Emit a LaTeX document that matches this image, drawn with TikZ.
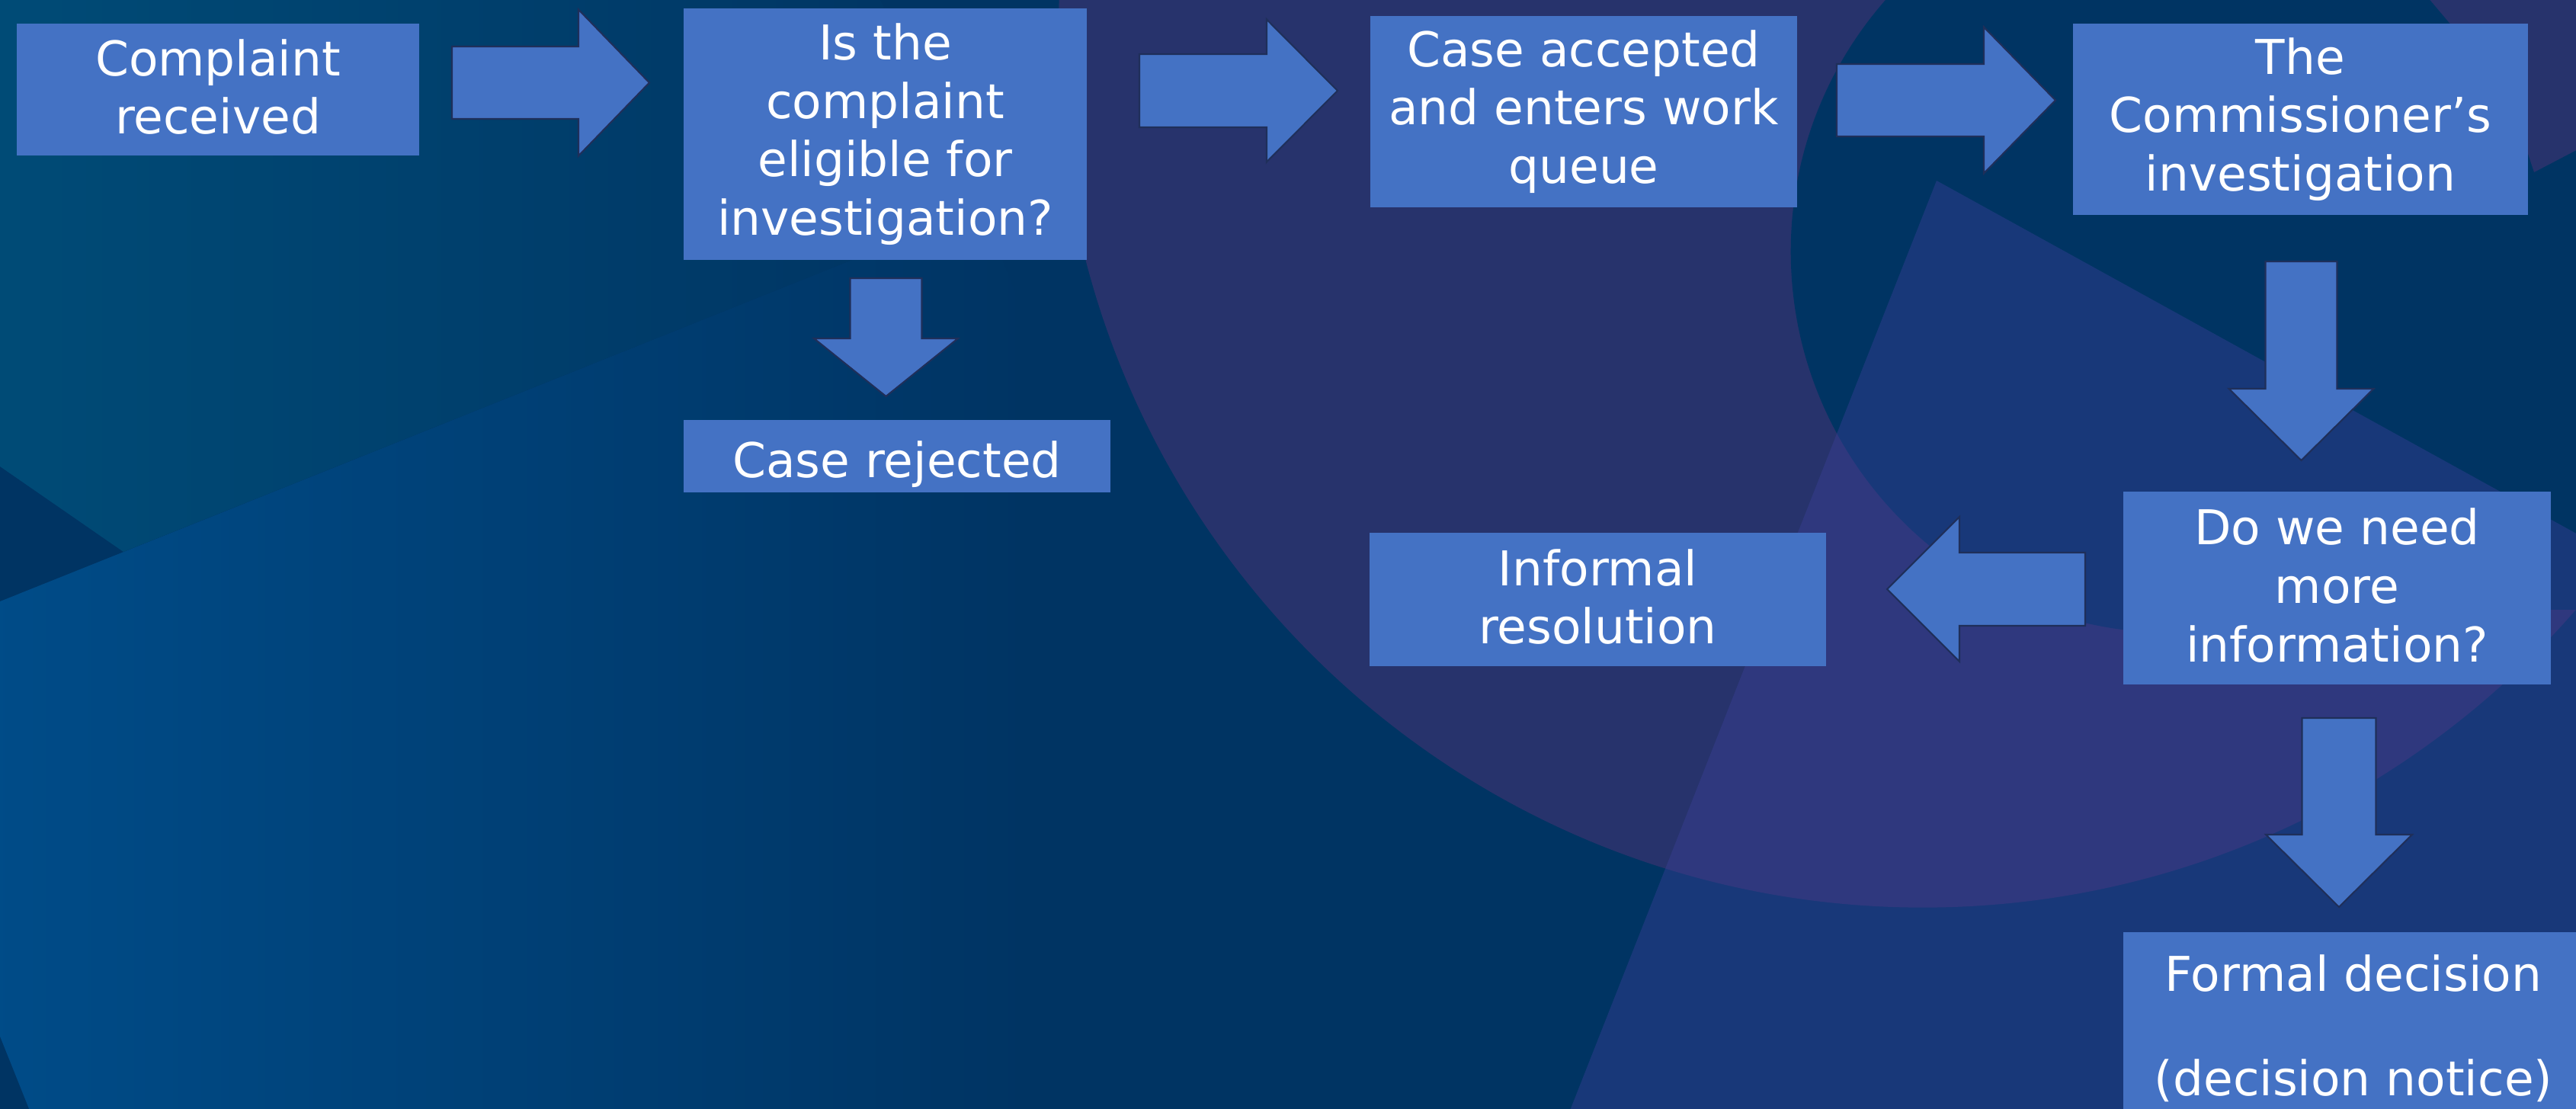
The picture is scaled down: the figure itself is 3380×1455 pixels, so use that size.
\documentclass[tikz,border=0pt]{standalone}
\usepackage{fontspec}
\setmainfont{DejaVu Sans}
\usetikzlibrary{fadings}
\definecolor{navy}{HTML}{003463}
\definecolor{ringc}{HTML}{27336C}
\definecolor{sqc}{HTML}{3B3F98}
\definecolor{blc}{HTML}{004F8D}
\definecolor{tealc}{HTML}{004D78}
\definecolor{boxblue}{HTML}{4472C4}
\definecolor{arrline}{HTML}{1F2F5A}
\tikzfading[name=fadeR, left color=transparent!0, right color=transparent!100]
\newcommand\lnstrut{\rule[-0.12em]{0pt}{1.215em}}
% #1 tail coordinate, #2 angle, #3 length, #4 shaft width, #5 head width, #6 head length
\newcommand\blockarrow[6]{%
  \begin{scope}[shift={(#1)},rotate=#2]
    \filldraw[arrsty] (0,-#4/2) -- (#3-#6,-#4/2) -- (#3-#6,-#5/2) -- (#3,0)
      -- (#3-#6,#5/2) -- (#3-#6,#4/2) -- (0,#4/2) -- cycle;
  \end{scope}}
\tikzset{
  box/.style={fill=boxblue, text=white, align=center, inner sep=0pt,
    font=\fontsize{17.9pt}{21.8pt}\selectfont,
    execute at begin node=\lnstrut, execute at end node=\lnstrut},
  arrsty/.style={fill=boxblue, draw=arrline, line width=0.6pt, line join=miter}
}
\begin{document}
\begin{tikzpicture}[x=0.01cm, y=-0.01cm]
\useasboundingbox (0,0) rectangle (3380,1455);
\clip (0,0) rectangle (3380,1455);
% ---------- background ----------
\fill[navy] (0,0) rectangle (3380,1455);
\begin{scope}
  \clip (-197,868) -- (1288,273) -- (1883,1758) -- (398,2353) -- cycle;
  \shade[left color=blc, right color=navy] (-197,0) rectangle (1350,1500);
\end{scope}
\fill[tealc, path fading=fadeR, fill opacity=0.95] (-10,-10) -- (1150,-10) -- (1288,273) -- (162,724) -- (0,612) -- (-10,612) -- cycle;
\fill[ringc] (2523,56) circle[radius=11.34cm];
\fill[navy] (2850,330) circle[radius=5cm];
\fill[navy] (3100,-10) rectangle (3390,800);
\fill[ringc] (3180,-10) -- (3290,120) -- (3325,226) -- (3390,192) -- (3390,-10) -- cycle;
\fill[sqc, fill opacity=0.42] (2541,237) -- (3500,766) -- (3500,1500) -- (2043,1500) -- cycle;
% ---------- boxes ----------
\node[box, minimum width=5.28cm, minimum height=1.73cm] (b1) at (286,117.5) {Complaint\\received};
\node[box, minimum width=5.29cm, minimum height=3.30cm] (b2) at (1161.5,176) {Is the\\complaint\\eligible for\\investigation?};
\node[box, minimum width=5.60cm, minimum height=0.95cm] (rej) at (1177,598.5) {Case rejected};
\node[box, minimum width=5.60cm, minimum height=2.51cm] (b3) at (2078,146.5) {Case accepted\\and enters work\\queue};
\node[box, minimum width=5.97cm, minimum height=2.51cm] (b4) at (3018.5,156.5) {The\\Commissioner’s\\investigation};
\node[box, minimum width=5.61cm, minimum height=2.53cm] (b5) at (3066.5,771.5) {Do we need\\more\\information?};
\node[box, minimum width=5.99cm, minimum height=1.75cm] (b6) at (2096.5,786.5) {Informal\\resolution};
\node[box, minimum width=6.04cm, minimum height=2.52cm] (b7) at (3088,1349) {Formal decision\\[17.1pt](decision notice)};
% ---------- block arrows ----------
\coordinate (a1) at (593,108.5);
\coordinate (a2) at (1495,119);
\coordinate (a3) at (2410,131.5);
\coordinate (a4) at (1162.5,365);
\coordinate (a5) at (3019.5,343);
\coordinate (a6) at (2736,773);
\coordinate (a7) at (3069,942);
\blockarrow{a1}{0}{259}{95}{192}{93}
\blockarrow{a2}{0}{260}{96}{187}{93}
\blockarrow{a3}{0}{287}{95}{192}{94}
\blockarrow{a4}{-90}{155}{94}{189}{76}
\blockarrow{a5}{-90}{261}{94}{190}{94}
\blockarrow{a6}{180}{260}{96}{190}{95}
\blockarrow{a7}{-90}{248}{97}{192}{95}
\end{tikzpicture}
\end{document}
